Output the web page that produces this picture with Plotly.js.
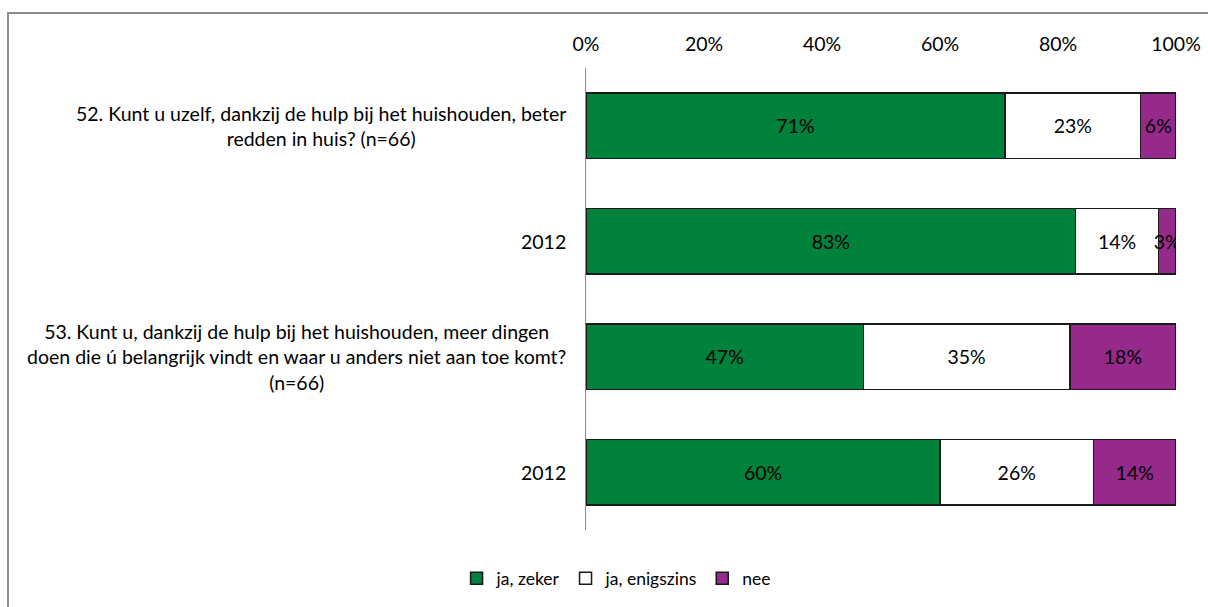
<!DOCTYPE html>
<html>
<head>
<meta charset="utf-8">
<script src="https://cdn.plot.ly/plotly-3.0.1.min.js"></script>
<style>
  html, body { margin: 0; padding: 0; background: #fff; overflow: hidden; }
  #frame { position: absolute; left: 7px; top: 12px; width: 1400px; height: 800px; border: 2px solid #8c8c8c; box-sizing: border-box; }
  #chart { position: absolute; left: 0; top: 0; width: 1208px; height: 607px; }
</style>
</head>
<body>
<div id="frame"></div>
<div id="chart"></div>
<script>
// Data
const categories = [
  "52. Kunt u uzelf, dankzij de hulp bij het huishouden, beter<br>redden in huis? (n=66)",
  "2012",
  "53. Kunt u, dankzij de hulp bij het huishouden, meer dingen<br>doen die ú belangrijk vindt en waar u anders niet aan toe komt?<br>(n=66)",
  "2012"
];
const jaZeker = [71, 83, 47, 60];
const jaEnigszins = [23, 14, 35, 26];
const nee = [6, 3, 18, 14];
const seriesNames = ["ja, zeker", "ja, enigszins", "nee"];
const tickValues = [0, 20, 40, 60, 80, 100];

const FONT = "Lato, 'Open Sans', sans-serif";
const idx = categories.map((_, i) => i);
const colors = ["#00823c", "#ffffff", "#962a8a"];
const allSeries = [jaZeker, jaEnigszins, nee];

const traces = allSeries.map((vals, k) => ({
  type: "bar",
  orientation: "h",
  name: seriesNames[k],
  y: idx,
  x: vals,
  text: vals.map(v => v + "%"),
  textposition: "inside",
  insidetextanchor: "middle",
  textangle: 0,
  constraintext: "none",
  textfont: { family: FONT, size: 19.5, color: "#000" },
  marker: { color: colors[k], line: { color: "#1a1a1a", width: 1.5 } },
  hoverinfo: "skip"
}));

const annotations = categories.map((c, i) => ({
  xref: "paper", yref: "y",
  x: -0.03, y: i,
  xanchor: "right", yanchor: "middle",
  align: "center",
  text: c,
  showarrow: false,
  font: { family: FONT, size: 19.5, color: "#000" }
}));

const layout = {
  width: 1208, height: 607,
  margin: { l: 586, r: 32, t: 68, b: 77 },
  paper_bgcolor: "rgba(0,0,0,0)",
  plot_bgcolor: "rgba(0,0,0,0)",
  barmode: "stack",
  bargap: 0.435,
  font: { family: FONT, size: 19, color: "#000" },
  xaxis: {
    side: "top",
    range: [0, 100],
    tickvals: tickValues,
    ticktext: tickValues.map(v => v + "%"),
    showgrid: false, zeroline: false, showline: false,
    ticks: "",
    ticklabelstandoff: 12,
    tickfont: { family: FONT, size: 19.5, color: "#000" },
    fixedrange: true
  },
  yaxis: {
    range: [3.5, -0.5],
    showticklabels: false,
    showgrid: false, zeroline: false,
    showline: true, linecolor: "#8c8c8c", linewidth: 1.5,
    ticks: "",
    fixedrange: true
  },
  showlegend: true,
  legend: {
    orientation: "h",
    xref: "container", yref: "container",
    x: 0.51, xanchor: "center",
    y: 0.047, yanchor: "middle",
    font: { family: FONT, size: 17.5, color: "#000" },
    itemwidth: 30,
    traceorder: "normal"
  },
  annotations: annotations
};

Plotly.newPlot("chart", traces, layout, { displayModeBar: false, staticPlot: true });
</script>
</body>
</html>
